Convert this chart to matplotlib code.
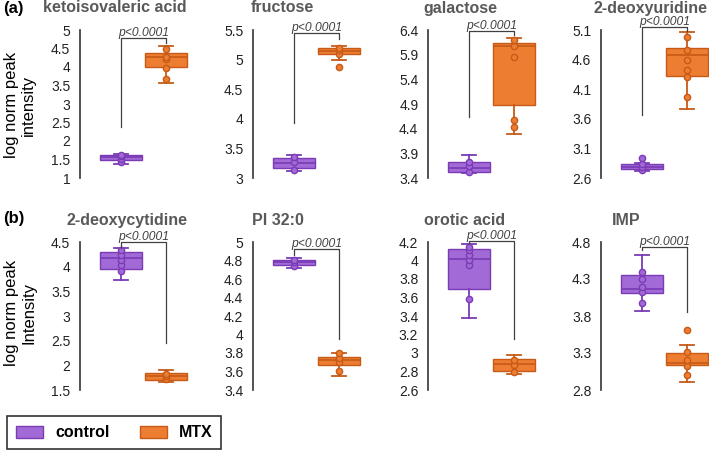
import matplotlib.pyplot as plt
from matplotlib.patches import Patch

plt.rcParams['font.family'] = ['Liberation Sans', 'DejaVu Sans']

# panel titles and y ticks
titles = ["ketoisovaleric acid", "fructose", "galactose", "2-deoxyuridine",
          "2-deoxycytidine", "PI 32:0", "orotic acid", "IMP"]
yticks = [
    [1, 1.5, 2, 2.5, 3, 3.5, 4, 4.5, 5],
    [3, 3.5, 4, 4.5, 5, 5.5],
    [3.4, 3.9, 4.4, 4.9, 5.4, 5.9, 6.4],
    [2.6, 3.1, 3.6, 4.1, 4.6, 5.1],
    [1.5, 2, 2.5, 3, 3.5, 4, 4.5],
    [3.4, 3.6, 3.8, 4, 4.2, 4.4, 4.6, 4.8, 5],
    [2.6, 2.8, 3, 3.2, 3.4, 3.6, 3.8, 4, 4.2],
    [2.8, 3.3, 3.8, 4.3, 4.8],
]

# control box stats
ctrl_whislo = [1.38, 3.11, 3.50, 2.72, 3.72, 4.72, 3.38, 3.87]
ctrl_q1 = [1.50, 3.17, 3.53, 2.76, 3.95, 4.75, 3.69, 4.11]
ctrl_med = [1.57, 3.26, 3.60, 2.79, 4.18, 4.78, 4.02, 4.17]
ctrl_q3 = [1.63, 3.33, 3.72, 2.83, 4.29, 4.81, 4.12, 4.36]
ctrl_whishi = [1.66, 3.39, 3.87, 2.86, 4.38, 4.83, 4.18, 4.63]

# MTX box stats
mtx_whislo = [3.56, 4.99, 4.30, 3.76, 1.67, 3.55, 2.77, 2.91]
mtx_q1 = [4.01, 5.09, 4.88, 4.33, 1.70, 3.67, 2.81, 3.14]
mtx_med = [4.28, 5.15, 6.07, 4.67, 1.79, 3.72, 2.88, 3.17]
mtx_q3 = [4.39, 5.19, 6.13, 4.79, 1.85, 3.76, 2.93, 3.30]
mtx_whishi = [4.57, 5.23, 6.23, 5.06, 1.90, 3.80, 2.98, 3.41]

# individual samples
ctrl_points = [
    [1.42, 1.52, 1.60, 1.63],
    [3.14, 3.27, 3.36],
    [3.53, 3.65, 3.73],
    [2.74, 2.79, 2.84, 2.94],
    [3.91, 4.03, 4.13, 4.24, 4.33],
    [4.74, 4.78, 4.81],
    [3.58, 3.95, 4.01, 4.06, 4.11, 4.15],
    [3.97, 4.12, 4.19, 4.30, 4.39],
]
mtx_points = [
    [3.68, 3.96, 4.21, 4.28, 4.50],
    [4.88, 5.10, 5.16, 5.20],
    [4.43, 4.57, 5.85, 6.08, 6.20],
    [3.96, 4.30, 4.43, 4.60, 4.77, 4.99],
    [1.72, 1.78, 1.83],
    [3.61, 3.70, 3.75, 3.80],
    [2.80, 2.87, 2.92],
    [3.00, 3.13, 3.20, 3.32, 3.61],
]

# significance brackets: control leg bottom, top, MTX leg bottom
bracket_lo = [2.38, 3.93, 4.64, 3.66, 4.38, 4.86, 4.19, 4.69]
bracket_top = [4.78, 5.45, 6.38, 5.15, 4.50, 4.92, 4.21, 4.73]
bracket_hi = [4.65, 5.35, 6.30, 5.08, 2.46, 3.95, 3.15, 3.85]

groups = ["control", "MTX"]

# colours
ctrl_fill, ctrl_edge = "#a26ad6", "#7a3bb5"
mtx_fill, mtx_edge = "#ed7d31", "#c65a16"

W, H = 709, 450
fig = plt.figure(figsize=(W / 100, H / 100), dpi=100)

spine_x = [80, 253, 428, 601]
row_px = [(30, 178), (242, 390)]
ax_w = 109

title_x = [115, 282, 460, 651, 127, 278, 465, 626]

for i in range(8):
    row, col = divmod(i, 4)
    top, bot = row_px[row]
    ax = fig.add_axes([spine_x[col] / W, 1 - bot / H, ax_w / W, (bot - top) / H])

    stats = [
        dict(whislo=ctrl_whislo[i], q1=ctrl_q1[i], med=ctrl_med[i],
             q3=ctrl_q3[i], whishi=ctrl_whishi[i], fliers=[]),
        dict(whislo=mtx_whislo[i], q1=mtx_q1[i], med=mtx_med[i],
             q3=mtx_q3[i], whishi=mtx_whishi[i], fliers=[]),
    ]
    bp = ax.bxp(stats, positions=[1, 2], widths=0.92, capwidths=0.3,
                patch_artist=True, showfliers=False)
    for j, (fc, ec) in enumerate([(ctrl_fill, ctrl_edge), (mtx_fill, mtx_edge)]):
        bp["boxes"][j].set(facecolor=fc, edgecolor=ec, linewidth=1)
        bp["medians"][j].set(color=ec, linewidth=1.2)
        for k in (2 * j, 2 * j + 1):
            bp["whiskers"][k].set(color=ec, linewidth=1.3)
            bp["caps"][k].set(color=ec, linewidth=1.3)

    ax.plot([1] * len(ctrl_points[i]), ctrl_points[i], "o", ms=4.5,
            mfc=ctrl_fill, mec=ctrl_edge, mew=1, zorder=4)
    ax.plot([2] * len(mtx_points[i]), mtx_points[i], "o", ms=4.5,
            mfc=mtx_fill, mec=mtx_edge, mew=1, zorder=4)

    # bracket
    ax.plot([1, 1, 2, 2], [bracket_lo[i], bracket_top[i], bracket_top[i], bracket_hi[i]],
            color="#404040", lw=0.9, clip_on=False, zorder=5)
    ax.annotate("p<0.0001", (1.5, bracket_top[i]), xytext=(0, 1.5),
                textcoords="offset points", ha="center", va="baseline",
                fontsize=8.7, style="italic", color="#404040",
                annotation_clip=False)

    ax.set_xlim(0.1, 2.5)
    ax.set_ylim(yticks[i][0], yticks[i][-1])
    ax.set_yticks(yticks[i])
    ax.set_yticklabels([f"{t:g}" for t in yticks[i]])
    ax.set_xticks([])
    ax.tick_params(axis="y", length=0, pad=7, labelsize=10, labelcolor="#222222")
    for s in ("top", "right", "bottom"):
        ax.spines[s].set_visible(False)
    ax.spines["left"].set(color="#333333", linewidth=1.2)
    ax.patch.set_alpha(0)

    ty = 8 if row == 0 else 220
    fig.text(title_x[i] / W, 1 - ty / H, titles[i], ha="center", va="center",
             fontsize=11.5, fontweight="bold", color="#595959")

# panel letters and y labels
fig.text(3 / W, 1 - 8 / H, "(a)", ha="left", va="center", fontsize=12, fontweight="bold")
fig.text(3 / W, 1 - 218 / H, "(b)", ha="left", va="center", fontsize=12, fontweight="bold")
fig.text(20 / W, 1 - 105 / H, "log norm peak\nintensity", rotation=90,
         ha="center", va="center", fontsize=12, multialignment="center")
fig.text(20 / W, 1 - 313 / H, "log norm peak\nIntensity", rotation=90,
         ha="center", va="center", fontsize=12, multialignment="center")

handles = [Patch(facecolor=ctrl_fill, edgecolor=ctrl_edge, label=groups[0]),
           Patch(facecolor=mtx_fill, edgecolor=mtx_edge, label=groups[1])]
leg = fig.legend(handles=handles, loc="lower left", bbox_to_anchor=(7 / W, 1 / H),
                 ncol=2, frameon=True, fancybox=False, edgecolor="black",
                 prop=dict(size=11.5, weight="bold"), handlelength=1.7,
                 handleheight=0.8, handletextpad=0.75, columnspacing=1.9,
                 borderpad=0.55, borderaxespad=0)
leg.get_frame().set_linewidth(1.2)

fig.savefig("out.png", dpi=100)
